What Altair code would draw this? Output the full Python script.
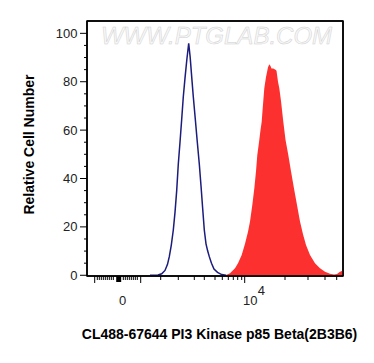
import altair as alt
import pandas as pd

# Channel position (0-256 across the plot) and relative cell number
blue_x = [63, 71, 74.7, 78, 80.5, 82.3, 84.3, 86.3, 88, 89.7, 91.3, 93, 94.7, 96.3, 98, 99.8,
          101.7, 103.2, 104.7, 106.3, 108.2, 110.2, 112.3, 114, 115.7, 117.3, 119, 120.7,
          122.3, 124.5, 127, 130.5, 134.7, 139]
blue_y = [0, 0.1, 0.6, 2, 4.5, 7.7, 12.5, 18.7, 26, 35, 46, 55, 64.5, 73.8, 81.5, 89, 95.9,
          90, 82, 73.8, 65, 55.5, 46, 37, 27.5, 18.7, 13, 10, 7.7, 5, 2.6, 1.2, 0.3, 0]

red_x = [137, 139.7, 143, 148, 151, 154.7, 158, 161, 163, 165.3, 167.3, 169, 170.3, 172, 173.5,
         174.7, 175.5, 177.3, 179, 181, 182.3, 183.5, 184.5, 186.3, 188.5, 189.5, 191, 192.3,
         194, 196.3, 198.5, 201.3, 204, 207, 210, 213, 216, 219, 223, 228, 233, 238, 243, 247,
         250, 253, 256]
red_y = [0, 0.2, 0.8, 2.9, 5, 8.4, 13, 18, 22.2, 29, 35.9, 43, 49.7, 55, 60, 63.5, 68, 77.3,
         82, 86, 87.2, 86.5, 85.5, 85.5, 85, 84.5, 80, 77.3, 72, 63.5, 56, 49.7, 43, 35.9, 29,
         22.2, 17, 12.5, 8.4, 5, 2.9, 1.5, 0.6, 0.3, 0.5, 1.5, 2]

x_major = [7.7, 53.7, 157.7]
x_zero = [31.7]
x_minor = [10.3, 12.3, 14.3, 16.3, 18.3, 20.3, 22.3, 24.3, 26.3,
           36.3, 38.3, 40.3, 42.3, 44.3, 46.3, 48.3, 50.3,
           73.7, 91.3, 107.3, 117.3, 128, 135.3, 141.3, 146.3, 150.7, 154.7,
           198, 221, 238, 249.7]
x_labels = ["0", "10"]
x_label_pos = [35.7, 163.3]

y_major = [0, 20, 40, 60, 80, 100]
y_minor = [5, 10, 15, 25, 30, 35, 45, 50, 55, 65, 70, 75, 85, 90, 95]

x_dom = [0, 256]
y_dom = [-0.3, 105.1]

blue = pd.DataFrame({"u": blue_x, "v": blue_y})
red = pd.DataFrame({"u": red_x, "v": red_y})
labs = pd.DataFrame({"u": x_label_pos, "t": x_labels})

xscale = alt.Scale(domain=x_dom, nice=False, zero=False)
yscale = alt.Scale(domain=y_dom, nice=False, zero=False)

xaxis = alt.Axis(
    values=[], labels=False, domain=False, grid=False, ticks=False,
    title="CL488-67644 PI3 Kinase p85 Beta(2B3B6)", titleFont="Liberation Sans",
    titleFontSize=14, titleFontWeight="bold", titleColor="black", titleX=132, titleY=51,
)
yaxis = alt.Axis(
    values=y_major, domain=False, grid=False, ticks=False,
    labelFont="Liberation Sans", labelFontSize=13, labelColor="#222", labelPadding=10,
    title="Relative Cell Number", titleFont="Liberation Sans", titleFontSize=14,
    titleFontWeight="bold", titleColor="black", titleX=-51, titleY=123,
)

area = alt.Chart(red).mark_area(color="#fd3030", opacity=1, interpolate="linear").encode(
    x=alt.X("u:Q", scale=xscale, axis=xaxis),
    y=alt.Y("v:Q", scale=yscale, axis=yaxis),
)
line = alt.Chart(blue).mark_line(color="#1c1c7c", strokeWidth=1.5).encode(
    x=alt.X("u:Q", scale=xscale),
    y=alt.Y("v:Q", scale=yscale),
)


def xticks(vals, length, width):
    return alt.Chart(pd.DataFrame({"u": vals})).mark_rule(
        color="black", strokeWidth=width
    ).encode(x=alt.X("u:Q", scale=xscale), y=alt.value(255), y2=alt.value(255 + length))


def yticks(vals, length):
    return alt.Chart(pd.DataFrame({"v": vals})).mark_rule(
        color="black", strokeWidth=1
    ).encode(y=alt.Y("v:Q", scale=yscale), x=alt.value(0), x2=alt.value(-length))


hframe = alt.Chart(pd.DataFrame({"x0": [x_dom[0]] * 2, "x1": [x_dom[1]] * 2,
                                 "y": y_dom})).mark_rule(color="black", strokeWidth=1.5).encode(
    x=alt.X("x0:Q", scale=xscale), x2="x1:Q", y=alt.Y("y:Q", scale=yscale))
vframe = alt.Chart(pd.DataFrame({"x": x_dom, "y0": [y_dom[0]] * 2,
                                 "y1": [y_dom[1]] * 2})).mark_rule(color="black", strokeWidth=1.5).encode(
    x=alt.X("x:Q", scale=xscale), y=alt.Y("y0:Q", scale=yscale), y2="y1:Q")

xlab = alt.Chart(labs).mark_text(font="Liberation Sans", fontSize=13, color="#222",
                                 baseline="middle").encode(
    x=alt.X("u:Q", scale=xscale), y=alt.value(280), text="t:N"
)
sup = alt.Chart(labs[labs.t == "10"]).mark_text(font="Liberation Sans", fontSize=13,
                                                color="#222", baseline="middle",
                                                text="4", dx=11, dy=-10).encode(
    x=alt.X("u:Q", scale=xscale), y=alt.value(280)
)
wm = alt.Chart(pd.DataFrame({"t": ["WWW.PTGLAB.COM"]})).mark_text(
    font="Liberation Sans", fontSize=24, fontStyle="italic", color="#f8f8f8",
    stroke="#d0d0d0", strokeWidth=0.5, baseline="middle"
).encode(x=alt.value(129.5), y=alt.value(15.5), text="t:N")

chart = alt.layer(
    wm, area, line, hframe, vframe,
    xticks(x_minor, 4, 1), xticks(x_major, 7, 1), xticks(x_zero, 6, 5),
    yticks(y_minor, 3), yticks(y_major, 7),
    xlab, sup,
).properties(
    width=256, height=255,
    background="white",
    autosize=alt.AutoSizeParams(type="none"),
    padding={"left": 79, "top": 13, "right": 23, "bottom": 79},
).configure_view(stroke="black", strokeWidth=1.5)

chart.save("out.html", embed_options={"renderer": "svg", "actions": False})
